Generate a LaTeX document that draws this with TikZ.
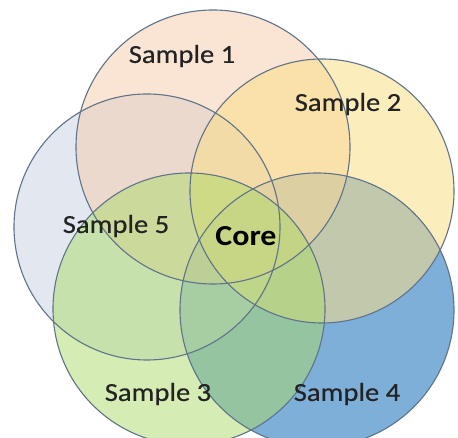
\documentclass[tikz,border=0pt]{standalone}
\usepackage{fontspec}
\setmainfont{Carlito}
\definecolor{edgeblue}{RGB}{95,115,138}
\definecolor{peach}{RGB}{245,203,172}
\definecolor{sand}{RGB}{250,222,135}
\definecolor{mist}{RGB}{200,209,226}
\definecolor{lime}{RGB}{172,218,105}
\definecolor{ocean}{RGB}{125,175,216}
\definecolor{labeltext}{RGB}{35,35,35}
\tikzset{
  venn/.style={draw=edgeblue, line width=1.1pt},
  lbl/.style={font=\fontsize{26}{30}\selectfont\addfontfeature{FakeBold=0.4}, text=labeltext, inner sep=0pt, xscale=1.1}
}
\begin{document}
\begin{tikzpicture}[x=1pt,y=1pt]
\useasboundingbox (0,0) rectangle (458,438);
% sets
\fill[ocean] (317,128) circle (137);
\fill[mist, fill opacity=0.5] (147,211) circle (133);
\fill[peach, fill opacity=0.5] (213,291) circle (137);
\fill[sand, fill opacity=0.55] (322,247) circle (132);
\fill[lime, fill opacity=0.5] (189,129) circle (136);
\draw[venn] (213,291) circle (137);
\draw[venn] (322,247) circle (132);
\draw[venn] (147,211) circle (133);
\draw[venn] (189,129) circle (136);
\draw[venn] (317,128) circle (137);
% labels
\node[lbl] (s1) at (182,382) {Sample 1};
\node[lbl] (s2) at (348,334) {Sample 2};
\node[lbl] (s5) at (116,212) {Sample 5};
\node[lbl] (s3) at (158,44) {Sample 3};
\node[lbl] (s4) at (347,44) {Sample 4};
\node[lbl, text=black, font=\fontsize{29}{32}\selectfont\bfseries] (core) at (246,202) {Core};
\end{tikzpicture}
\end{document}
